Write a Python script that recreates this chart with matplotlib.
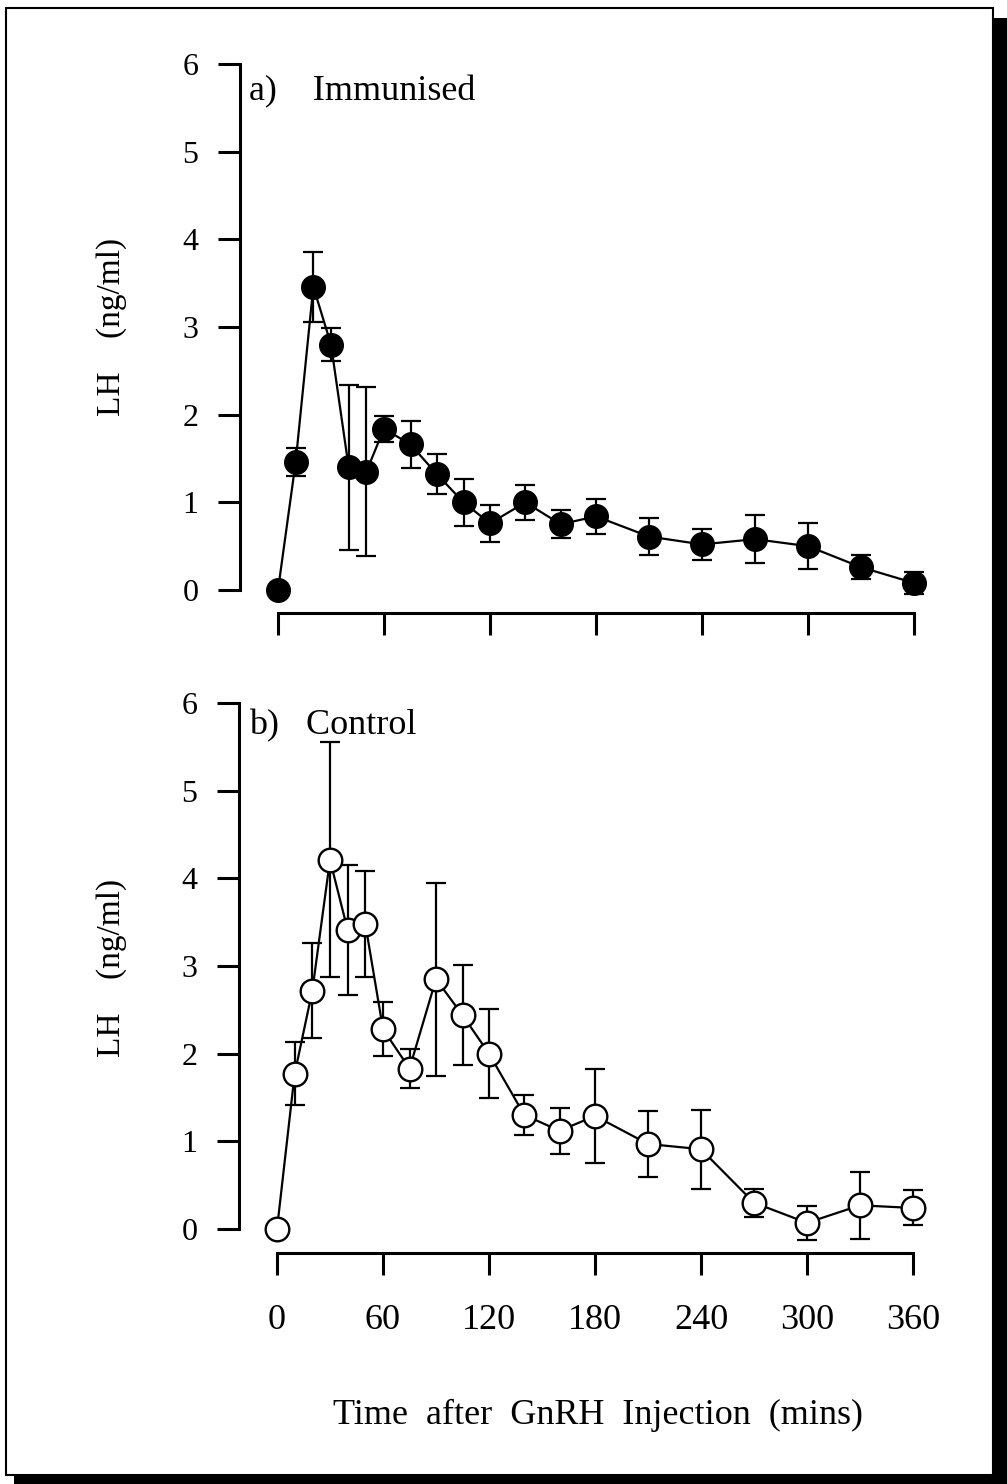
import matplotlib
matplotlib.use('Agg')
import matplotlib.pyplot as plt
from matplotlib.patches import Rectangle

plt.rcParams['font.family'] = ['Liberation Serif', 'DejaVu Serif']

# sampling times after GnRH injection (mins)
times = [0, 10, 20, 30, 40, 50, 60, 75, 90, 105, 120, 140, 160, 180, 210, 240, 270, 300, 330, 360]

# a) immunised group, LH mean and SEM (ng/ml)
imm_mean = [0.0, 1.46, 3.46, 2.80, 1.40, 1.35, 1.84, 1.66, 1.32, 1.00,
            0.76, 1.00, 0.75, 0.84, 0.61, 0.52, 0.58, 0.50, 0.26, 0.08]
imm_sem = [0.0, 0.16, 0.40, 0.19, 0.94, 0.96, 0.15, 0.27, 0.23, 0.27,
           0.21, 0.20, 0.16, 0.20, 0.21, 0.18, 0.27, 0.26, 0.14, 0.13]

# b) control group
ctrl_mean = [0.0, 1.77, 2.72, 4.21, 3.41, 3.48, 2.28, 1.83, 2.85, 2.44,
             2.00, 1.30, 1.12, 1.29, 0.97, 0.91, 0.30, 0.07, 0.27, 0.24]
ctrl_sem = [0.0, 0.36, 0.54, 1.34, 0.74, 0.60, 0.31, 0.22, 1.10, 0.57,
            0.51, 0.23, 0.26, 0.54, 0.38, 0.45, 0.16, 0.19, 0.38, 0.20]

x_ticks = [0, 60, 120, 180, 240, 300, 360]
y_ticks = [0, 1, 2, 3, 4, 5, 6]

W, H = 1007, 1484
fig = plt.figure(figsize=(W / 100, H / 100), dpi=100)


def make_panel(left, top, right, bottom, x0, x360, y0, y6):
    """ axes placed in pixel coords, limits chosen so that data 0/360 and 0/6
        land on the given pixel positions """
    ax = fig.add_axes([left / W, 1 - bottom / H, (right - left) / W, (bottom - top) / H])
    sx = (x360 - x0) / 360.0
    sy = (y0 - y6) / 6.0
    ax.set_xlim(-(x0 - left) / sx, 360 + (right - x360) / sx)
    ax.set_ylim(-(bottom - y0) / sy, 6 + (y6 - top) / sy)
    for s in ['top', 'right']:
        ax.spines[s].set_visible(False)
    ax.spines['left'].set_bounds(0, 6)
    ax.spines['bottom'].set_bounds(0, 360)
    ax.spines['left'].set_linewidth(2.2)
    ax.spines['bottom'].set_linewidth(2.2)
    ax.set_xticks(x_ticks)
    ax.set_yticks(y_ticks)
    ax.tick_params(axis='y', direction='out', length=16, width=2.2, labelsize=23, pad=14)
    ax.tick_params(axis='x', direction='out', length=16, width=2.2, labelsize=26, pad=21)
    ax.patch.set_alpha(0)
    return ax


# top panel - immunised
ax1 = make_panel(240, 50, 935, 613, 278, 914, 590, 64)
ax1.errorbar(times, imm_mean, yerr=imm_sem, fmt='none', ecolor='black',
             elinewidth=1.6, capsize=7, capthick=1.6, zorder=2)
ax1.plot(times, imm_mean, '-o', color='black', lw=1.6, ms=17,
         mfc='black', mec='black', zorder=3, clip_on=False)
ax1.tick_params(axis='x', labelbottom=False)

# bottom panel - control
ax2 = make_panel(239, 690, 935, 1253, 277, 913, 1229, 703)
ax2.errorbar(times, ctrl_mean, yerr=ctrl_sem, fmt='none', ecolor='black',
             elinewidth=1.6, capsize=7, capthick=1.6, zorder=2)
ax2.plot(times, ctrl_mean, '-o', color='black', lw=1.6, ms=17,
         mfc='white', mec='black', mew=1.7, zorder=3, clip_on=False)


def px_text(x, y, s, **kw):
    fig.text(x / W, 1 - y / H, s, **kw)


px_text(249, 92, 'a)    Immunised', fontsize=26, va='center', ha='left')
px_text(249, 726, 'b)   Control', fontsize=26, va='center', ha='left')
px_text(112, 327, 'LH    (ng/ml)', fontsize=24, rotation=90, va='center', ha='center')
px_text(112, 968, 'LH    (ng/ml)', fontsize=24, rotation=90, va='center', ha='center')
px_text(598, 1415, 'Time  after  GnRH  Injection  (mins)', fontsize=26,
        va='center', ha='center')

# page frame with a drop shadow on the right and bottom
fig.patches.append(Rectangle((6 / W, 1 - 1475 / H), (993 - 6) / W, (1475 - 8) / H,
                             transform=fig.transFigure, fill=False, lw=1.5, ec='black'))
fig.patches.append(Rectangle((993 / W, 0), 14 / W, (H - 18) / H,
                             transform=fig.transFigure, fc='black', ec='none'))
fig.patches.append(Rectangle((14 / W, 0), (W - 14) / W, 9 / H,
                             transform=fig.transFigure, fc='black', ec='none'))

fig.savefig('out.png', dpi=100)
